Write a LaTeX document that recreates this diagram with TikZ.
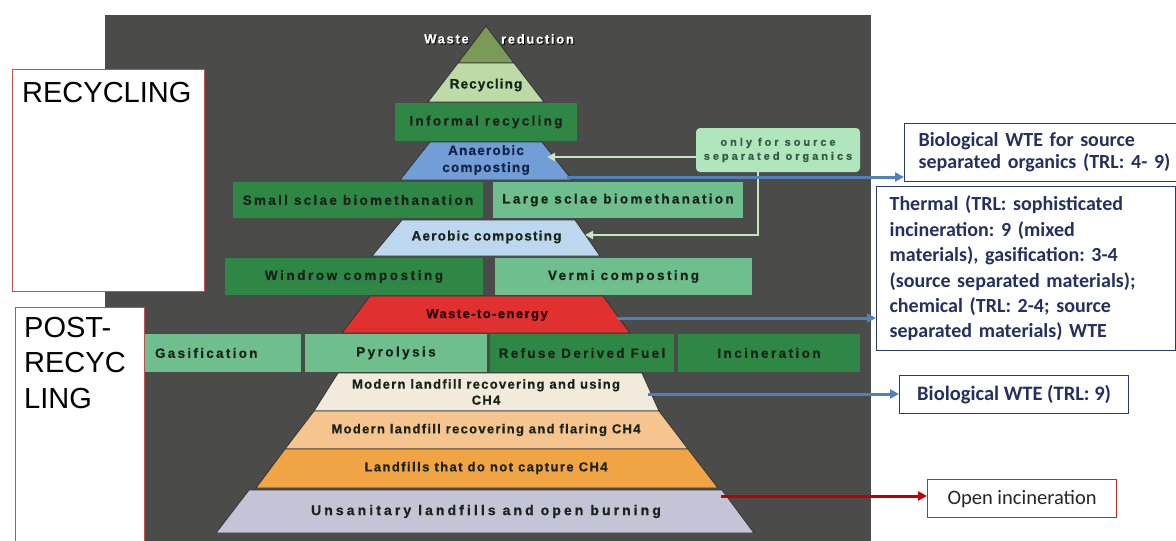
\documentclass[tikz,border=0pt]{standalone}
\usepackage{fontspec}
\usetikzlibrary{arrows.meta}
\newfontfamily\arialf[Ligatures=NoCommon]{Liberation Sans}
\newfontfamily\calib{Carlito}
\definecolor{bgdark}{RGB}{75,75,73}
\definecolor{olive}{RGB}{123,154,87}
\definecolor{lgreen}{RGB}{188,219,166}
\definecolor{dgreen}{RGB}{47,135,69}
\definecolor{mgreen}{RGB}{111,190,142}
\definecolor{anablue}{RGB}{114,158,216}
\definecolor{aeroblue}{RGB}{189,215,238}
\definecolor{wtered}{RGB}{224,48,47}
\definecolor{cream}{RGB}{242,234,218}
\definecolor{lorange}{RGB}{246,196,143}
\definecolor{orangeb}{RGB}{240,164,67}
\definecolor{lavgray}{RGB}{195,196,214}
\definecolor{txtdark}{RGB}{25,35,25}
\definecolor{anatxt}{RGB}{20,35,70}
\definecolor{navytxt}{RGB}{38,48,95}
\definecolor{boxnavy}{RGB}{47,59,107}
\definecolor{arrblue}{RGB}{79,129,189}
\definecolor{arrred}{RGB}{192,0,0}
\definecolor{redborder}{RGB}{192,80,77}
\definecolor{mint}{RGB}{175,230,187}
\definecolor{mintline}{RGB}{198,230,194}
\definecolor{minttxt}{RGB}{55,90,68}
\newcommand\pf[3]{\arialf\bfseries\fontsize{#1}{#2}\selectfont\addfontfeature{LetterSpace=#3,FakeBold=0.7}}
\begin{document}
\begin{tikzpicture}[x=1pt,y=-1pt,
  layer/.style={draw=black!80,line width=0.8pt},
  pyr/.style={inner sep=0pt,text=txtdark,align=center},
  rbox/.style={inner sep=0pt,text=txtdark,draw=none,align=center},
  infobox/.style={draw=boxnavy,line width=1.2pt,fill=white,text=navytxt,inner ysep=0pt},
  barrow/.style={draw=arrblue,line width=3pt,-{Triangle[length=9pt,width=9pt]}},
  rarrow/.style={draw=arrred,line width=3pt,-{Triangle[length=9pt,width=9pt]}},
  garrow/.style={draw=mintline,line width=2.5pt,-{Triangle[length=8pt,width=8pt]}},
  sidebox/.style={draw=redborder,line width=1.4pt,fill=white,anchor=north west,inner sep=0pt}
]
\useasboundingbox (0,0) rectangle (1176,541);
% dark background
\fill[bgdark] (105,15) rectangle (871,545);

% side boxes
\node[sidebox,minimum width=192pt,minimum height=222pt] (recbox) at (12,69) {};
\node[anchor=base west,inner sep=0pt,font={\arialf\fontsize{29}{35}\selectfont}] (rectxt) at (22,102) {RECYCLING};
\node[sidebox,minimum width=129pt,minimum height=245pt] (postbox) at (15,307) {};
\node[anchor=north west,inner sep=0pt,align=left,font={\arialf\fontsize{29}{35.5}\selectfont}] (posttxt) at (24,317) {POST-\\RECYC\\LING};

% pyramid top
\path[layer,fill=olive] (486,26) -- (514,63) -- (458,63) -- cycle;
\node[inner sep=0pt,text=black,font={\pf{13}{14}{13}}] (wasteS) at (447.5,40) {Waste};
\node[inner sep=0pt,text=white,font={\pf{13}{14}{13}}] (waste) at (446.5,39) {Waste};
\node[inner sep=0pt,text=black,font={\pf{13}{14}{13}}] (reductS) at (538.5,40) {reduction};
\node[inner sep=0pt,text=white,font={\pf{13}{14}{13}}] (reduct) at (537.5,39) {reduction};

\path[layer,fill=lgreen] (458,63) -- (514,63) -- (544,102) -- (428,102) -- cycle;
\node[pyr,font={\pf{13.5}{14}{8}}] (recyc) at (486,85) {Recycling};

\node[rbox,fill=dgreen,minimum width=182pt,minimum height=38pt,font={\pf{13.5}{14}{17}}] (informal) at (486,122) {Informal recycling};

\path[layer,fill=anablue] (430,142) -- (542,142) -- (572,180) -- (400,180) -- cycle;
\node[pyr,text=anatxt,font={\pf{13.5}{17}{9}}] (anaer) at (486,160) {Anaerobic\\composting};

\node[rbox,fill=dgreen,minimum width=250pt,minimum height=36pt,font={\pf{13.5}{14}{17}}] (small) at (358,200) {Small sclae biomethanation};
\node[rbox,fill=mgreen,minimum width=250pt,minimum height=36pt,font={\pf{13.5}{14}{17}}] (large) at (618,200) {Large sclae biomethanation};

\path[layer,fill=aeroblue] (402,220) -- (575,220) -- (600,256) -- (372,256) -- cycle;
\node[pyr,font={\pf{13.5}{14}{9}}] (aerob) at (486.5,237) {Aerobic composting};

\node[rbox,fill=dgreen,minimum width=258pt,minimum height=37pt,font={\pf{13.5}{14}{19}}] (windrow) at (354,276.5) {Windrow composting};
\node[rbox,fill=mgreen,minimum width=257pt,minimum height=37pt,font={\pf{13.5}{14}{18}}] (vermi) at (623.5,276.5) {Vermi composting};

\path[layer,fill=wtered] (370,296) -- (603,296) -- (630,333) -- (342,333) -- cycle;
\node[pyr,text=black!85!red,font={\pf{13}{14}{11}}] (wte) at (487,315) {Waste-to-energy};

\node[rbox,fill=mgreen,minimum height=38pt,text width=136pt,inner xsep=10pt,align=left,font={\pf{13.5}{14}{17}}] (gasif) at (223,353) {Gasification};
\node[rbox,fill=mgreen,minimum width=182pt,minimum height=38pt,font={\pf{13.5}{14}{18}}] (pyro) at (396,353) {Pyrolysis};
\node[rbox,fill=dgreen,minimum width=184pt,minimum height=38pt,font={\pf{13.5}{14}{17}}] (rdf) at (582,353) {Refuse Derived Fuel};
\node[rbox,fill=dgreen,minimum width=182pt,minimum height=38pt,font={\pf{13.5}{14}{18}}] (incin) at (769,353) {Incineration};

\path[layer,fill=cream] (338,373) -- (642,373) -- (659,411) -- (314,411) -- cycle;
\node[pyr,font={\pf{13}{16}{10}}] (using) at (486,392) {Modern landfill recovering and using\\CH4};
\path[layer,fill=lorange] (314,411) -- (659,411) -- (688,449) -- (285,449) -- cycle;
\node[pyr,font={\pf{13}{14}{10}}] (flaring) at (486,430) {Modern landfill recovering and flaring CH4};
\path[layer,fill=orangeb] (285,449) -- (688,449) -- (718,488) -- (256,488) -- cycle;
\node[pyr,font={\pf{13}{14}{11}}] (nocap) at (486,468) {Landfills that do not capture CH4};
\path[layer,fill=lavgray] (249,490) -- (722,490) -- (754,533) -- (216,533) -- cycle;
\node[pyr,font={\pf{14}{14}{22}}] (unsan) at (486,511.5) {Unsanitary landfills and open burning};

% only for source separated organics
\node[fill=mint,rounded corners=4pt,minimum width=164pt,minimum height=44pt,inner sep=0pt,align=center,text=minttxt,font={\pf{11}{14}{27}}] (only) at (778,150) {only for source\\separated organics};
\coordinate (anatip) at (547,157);
\draw[garrow] (anatip -| only.west) -- (anatip);
\coordinate (gx) at (758,0);
\coordinate (aerotip) at (585,235);
\draw[garrow] (only.south -| gx) |- (aerotip);

% right boxes
\node[infobox,anchor=north west,minimum height=58pt,text width=257pt,inner xsep=14pt,align=left,font={\calib\bfseries\fontsize{20}{22}\selectfont\frenchspacing}] (bwte1) at (904,123) {Biological WTE for source\\separated organics (TRL: 4- 9)};
\node[infobox,anchor=north west,minimum height=164pt,text width=273pt,inner xsep=13pt,align=left,font={\calib\bfseries\fontsize{20}{25.4}\selectfont\frenchspacing}] (thermal) at (876,186) {Thermal (TRL: sophisticated\\incineration: 9 (mixed\\materials), gasification: 3-4\\(source separated materials);\\chemical (TRL: 2-4; source\\separated materials) WTE};
\node[infobox,anchor=north west,minimum width=229pt,minimum height=38pt,inner xsep=0pt,align=center,font={\calib\bfseries\fontsize{20.5}{22}\selectfont\frenchspacing}] (bwte2) at (899,375) {Biological WTE (TRL: 9)};
\node[draw=arrred!85!white,line width=1.2pt,fill=white,anchor=north west,minimum width=189pt,minimum height=38pt,inner sep=0pt,text=black!85,font={\calib\fontsize{20.5}{22}\selectfont}] (openinc) at (927,479) {Open incineration};

% arrows
\coordinate (a1) at (567,177);
\draw[barrow] (a1) -- (a1 -| bwte1.west);
\coordinate (a2) at (617,318);
\draw[barrow] (a2) -- (a2 -| thermal.west);
\coordinate (a3) at (648,394);
\draw[barrow] (a3) -- (a3 -| bwte2.west);
\coordinate (a4) at (721,496);
\draw[rarrow] (a4) -- (a4 -| openinc.west);
\end{tikzpicture}
\end{document}
